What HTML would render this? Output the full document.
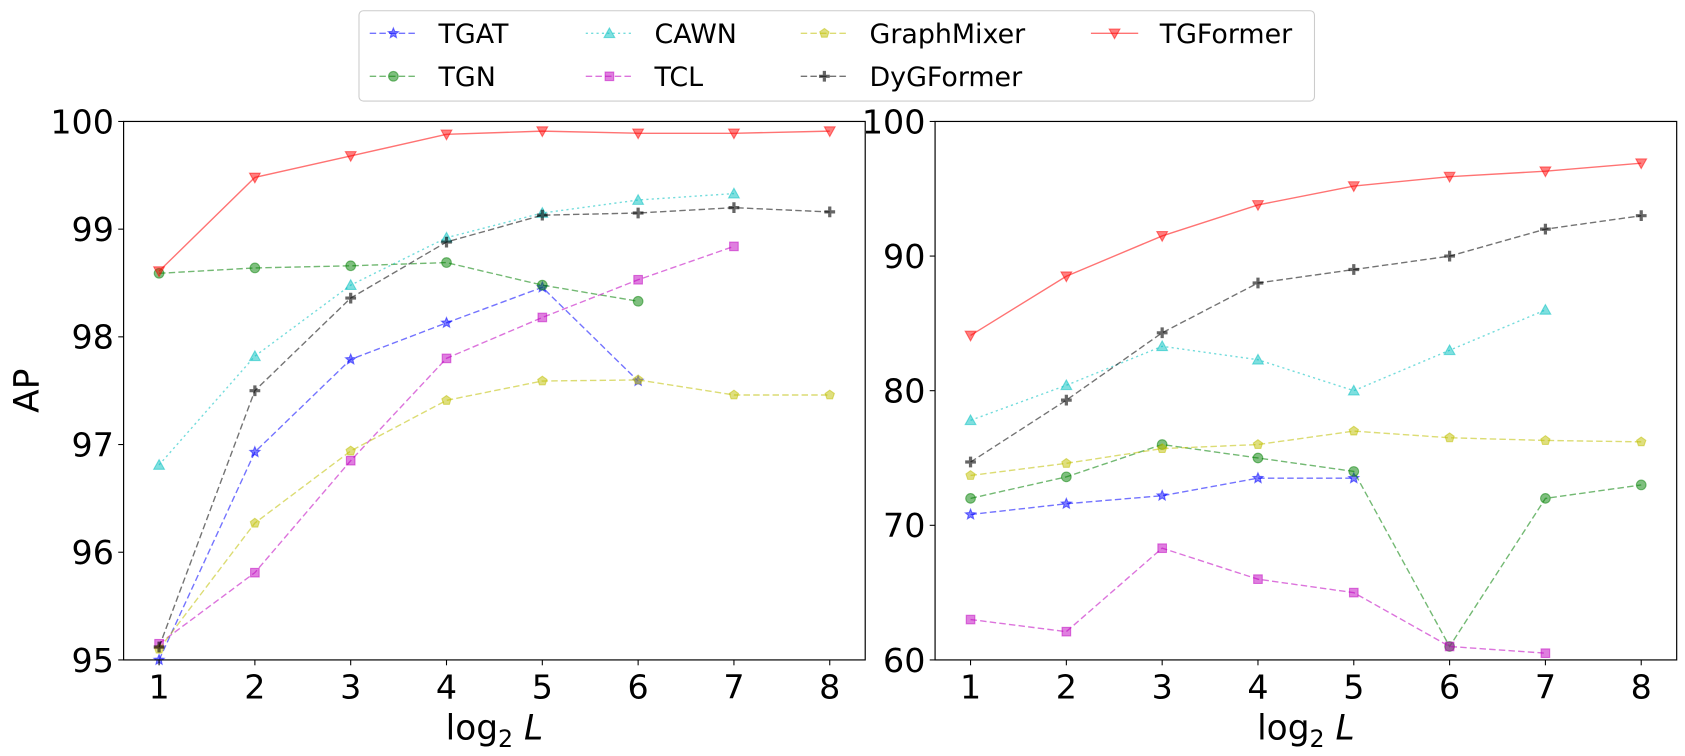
<!DOCTYPE html>
<html><head><meta charset="utf-8"><style>
body{margin:0;background:#fff;}
svg{display:block;font-family:"DejaVu Sans","Liberation Sans",sans-serif;}
</style></head><body>
<svg id="c" width="1685" height="756"><g id="root" transform="scale(1.0748)"></g></svg>
<script>
const xCats=[1,2,3,4,5,6,7,8];
const leftTicks=[95,96,97,98,99,100];
const rightTicks=[60,70,80,90,100];
const L_TGAT=[95.0,96.93,97.79,98.13,98.46,97.59];
const L_TGN=[98.59,98.64,98.66,98.69,98.48,98.33];
const L_CAWN=[96.81,97.82,98.48,98.92,99.15,99.27,99.33];
const L_TCL=[95.15,95.81,96.85,97.8,98.18,98.53,98.84];
const L_GM=[95.1,96.27,96.94,97.41,97.59,97.6,97.46,97.46];
const L_DYG=[95.12,97.5,98.36,98.88,99.13,99.15,99.2,99.16];
const L_TGF=[98.61,99.48,99.68,99.88,99.91,99.89,99.89,99.91];
const R_TGAT=[70.8,71.6,72.2,73.5,73.5];
const R_TGN=[72,73.6,76,75,74,61,72,73];
const R_CAWN=[77.8,80.4,83.3,82.3,80,83,86];
const R_TCL=[63,62.1,68.3,66,65,61,60.5];
const R_GM=[73.7,74.6,75.7,76,77,76.5,76.3,76.2];
const R_DYG=[74.7,79.3,84.3,88,89,90,92,93];
const R_TGF=[84.1,88.5,91.5,93.8,95.2,95.9,96.3,96.9];
const names=["TGAT","TGN","CAWN","TCL","GraphMixer","DyGFormer","TGFormer"];

const NS="http://www.w3.org/2000/svg";
const svg=document.getElementById('root');
function mk(t,a,p){const e=document.createElementNS(NS,t);for(const k in a)e.setAttribute(k,a[k]);(p||svg).appendChild(e);return e;}
const styles=[
 {c:"#0000ff",d:"6,3",m:"star"},
 {c:"#008000",d:"6,3",m:"circle"},
 {c:"#00bfbf",d:"2,3",m:"tri"},
 {c:"#bf00bf",d:"6,3",m:"square"},
 {c:"#bfbf00",d:"6,3",m:"pent"},
 {c:"#000000",d:"6,3",m:"plus"},
 {c:"#ff0000",d:"",m:"vtri"}];
function marker(g,m,x,y,c){
  const a={fill:c,stroke:c,'stroke-width':1,'fill-opacity':0.5,'stroke-opacity':0.5};
  let el;
  if(m==="circle") el=mk('circle',Object.assign({cx:x,cy:y,r:4.5},a),g);
  else if(m==="square") el=mk('rect',Object.assign({x:x-4,y:y-4,width:8,height:8},a),g);
  else if(m==="tri") el=mk('polygon',Object.assign({points:`${x},${y-5} ${x-5},${y+4} ${x+5},${y+4}`},a),g);
  else if(m==="vtri") el=mk('polygon',Object.assign({points:`${x},${y+5} ${x-5},${y-4} ${x+5},${y-4}`},a),g);
  else if(m==="plus") el=mk('path',{d:`M${x-5},${y}H${x+5}M${x},${y-5}V${y+5}`,stroke:c,'stroke-width':3,'stroke-opacity':0.6,fill:'none'},g);
  else if(m==="star"||m==="pent"){let p=[];const n=m==="star"?10:5;const r=m==="star"?5:4.5;
    for(let i=0;i<n;i++){const rr=(m==="star"&&i%2)?r*0.45:r;const an=-Math.PI/2+i*2*Math.PI/n;p.push((x+rr*Math.cos(an)).toFixed(1)+","+(y+rr*Math.sin(an)).toFixed(1));}
    el=mk('polygon',Object.assign({points:p.join(' ')},a),g);}
  
  
}
function panel(x0,x1,y0,y1,ymin,ymax,ticks,series,id,ylabel){
  const g=mk('g',{});
  
  
  const xs=v=>x0+33+(v-1)*(x1-x0-66)/7;
  const ys=v=>y1-(v-ymin)*(y1-y0)/(ymax-ymin);
  series.forEach((s,i)=>{
    const st=styles[i];
    const pts=s.map((v,j)=>xs(xCats[j]).toFixed(1)+","+ys(v).toFixed(1)).join(' ');
    const pl=mk('polyline',{points:pts,fill:'none',stroke:st.c,'stroke-width':1.3,'stroke-opacity':0.55,'stroke-dasharray':st.d},g);
    
    
    s.forEach((v,j)=>marker(g,st.m,xs(xCats[j]),ys(v),st.c));
  });
  const fr=mk('rect',{x:x0,y:y0,width:x1-x0,height:y1-y0,fill:'none',stroke:'#000','stroke-width':1.1},g);
  
  xCats.forEach(v=>{const x=xs(v);mk('line',{x1:x,x2:x,y1:y1,y2:y1+5,stroke:'#000'},g);
    const t=mk('text',{x:x,y:y1+36,'font-size':31,'text-anchor':'middle'},g);t.textContent=v;
    });
  ticks.forEach(v=>{const y=ys(v);mk('line',{x1:x0-5,x2:x0,y1:y,y2:y,stroke:'#000'},g);
    const t=mk('text',{x:x0-9,y:y+11,'font-size':31,'text-anchor':'end'},g);t.textContent=v;
    });
  const xl=mk('text',{x:(x0+x1)/2,y:y1+74,'font-size':32,'text-anchor':'middle'},g);
  xl.innerHTML='log<tspan font-size="22" dy="7">2</tspan><tspan dy="-7" font-style="italic"> L</tspan>';
  
  if(ylabel){const yl=mk('text',{x:0,y:0,'font-size':32,'text-anchor':'middle',transform:`translate(36,${(y0+y1)/2}) rotate(-90)`},g);
    yl.textContent=ylabel;}
}
panel(115,805,113,614,95,100,leftTicks,[L_TGAT,L_TGN,L_CAWN,L_TCL,L_GM,L_DYG,L_TGF],'left-panel','AP');
panel(870,1560,113,614,60,100,rightTicks,[R_TGAT,R_TGN,R_CAWN,R_TCL,R_GM,R_DYG,R_TGF],'right-panel',null);
// legend
const lg=mk('g',{});


mk('rect',{x:334,y:10,width:889,height:84,rx:4,fill:'#fff',stroke:'#ccc'},lg);
const cols=[344,545,745,1015],rows=[31,71];
const order=[[0,0,0],[1,0,1],[2,1,0],[3,1,1],[4,2,0],[5,2,1],[6,3,0]];
order.forEach(([i,c,r])=>{const st=styles[i];const x=cols[c],y=rows[r];
  const e=mk('g',{},lg);
  
  
  mk('line',{x1:x,x2:x+44,y1:y,y2:y,stroke:st.c,'stroke-opacity':0.55,'stroke-width':1.3,'stroke-dasharray':st.d},e);
  marker(e,st.m,x+22,y,st.c);
  const t=mk('text',{x:x+64,y:y+9,'font-size':25},e);t.textContent=names[i];
});
</script>
</body></html>
